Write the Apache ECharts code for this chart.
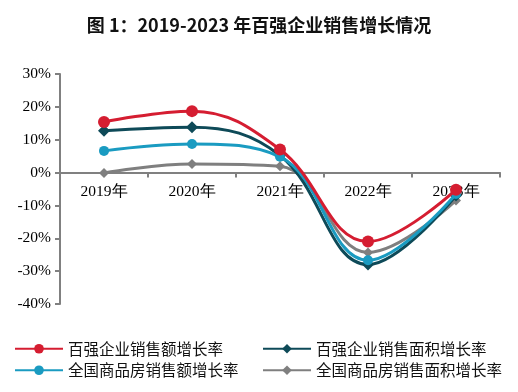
<!DOCTYPE html>
<html><head><meta charset="utf-8">
<script src="https://cdn.jsdelivr.net/npm/echarts@6/dist/echarts.min.js"></script>
<style>html,body{margin:0;padding:0;background:#fff}#c{width:518px;height:392px}</style>
</head><body><div id="c"></div>
<script>
const categories = ['2019年','2020年','2021年','2022年','2023年'];
const top100Sales = [15.4, 18.7, 7.0, -21.0, -5.2];
const top100Area = [12.7, 13.8, 5.2, -28.0, -7.0];
const nationalSales = [6.6, 8.7, 4.8, -26.7, -6.5];
const nationalArea = [-0.1, 2.6, 1.9, -24.3, -8.5];
const seriesNames = ['百强企业销售额增长率','百强企业销售面积增长率','全国商品房销售额增长率','全国商品房销售面积增长率'];

const chart = echarts.init(document.getElementById('c'));
const serif = '"Liberation Serif","DejaVu Serif",serif';
const cjk = '"Noto Sans CJK SC","Noto Sans",sans-serif';
const gridTop = 74, gridBottom = 88, H = 392;
const yMin = -40, yMax = 30;
const zeroOffset = (H - gridTop - gridBottom) * (0 - yMin) / (yMax - yMin);
function mk(name, data, color, symbol, size, z){
  return {name, type:'line', data, smooth:0.4, z,
    symbol, symbolSize:size, showSymbol:true,
    lineStyle:{color, width:3}, itemStyle:{color},
    emphasis:{disabled:true}};
}
chart.setOption({
  animation:false,
  title:{text:'图 1：2019-2023 年百强企业销售增长情况', left:'center', top:11,
    textStyle:{fontSize:18, fontWeight:'bold', color:'#111', fontFamily:cjk}},
  grid:{left:60, right:18, top:gridTop, bottom:gridBottom},
  legend:[
    {data:[seriesNames[0], seriesNames[2]], orient:'vertical', left:9, top:336,
     itemWidth:48, itemHeight:12, itemGap:6,
     textStyle:{fontSize:15.5, color:'#111', fontFamily:cjk}},
    {data:[seriesNames[1], seriesNames[3]], orient:'vertical', left:257, top:336,
     itemWidth:48, itemHeight:12, itemGap:6,
     textStyle:{fontSize:15.5, color:'#111', fontFamily:cjk}}
  ],
  xAxis:{type:'category', data:categories, boundaryGap:true,
    offset:-zeroOffset,
    axisLine:{onZero:false, lineStyle:{color:'#808080', width:2}},
    axisTick:{show:true, length:5, lineStyle:{color:'#808080', width:2}},
    axisLabel:{color:'#000', fontSize:15.5, fontFamily:serif, margin:11}},
  yAxis:{type:'value', min:yMin, max:yMax, interval:10,
    axisLine:{show:true, lineStyle:{color:'#808080', width:2}},
    axisTick:{show:true, length:5, lineStyle:{color:'#808080', width:2}},
    splitLine:{show:false},
    axisLabel:{color:'#000', fontSize:15.5, fontFamily:serif, margin:9, formatter:'{value}%'}},
  series:[
    mk(seriesNames[3], nationalArea, '#7f7f7f', 'diamond', 10, 2),
    mk(seriesNames[1], top100Area, '#0e4a58', 'diamond', 12, 3),
    mk(seriesNames[2], nationalSales, '#1a9bc1', 'circle', 10, 4),
    mk(seriesNames[0], top100Sales, '#d51d31', 'circle', 12, 5)
  ]
});
</script></body></html>
